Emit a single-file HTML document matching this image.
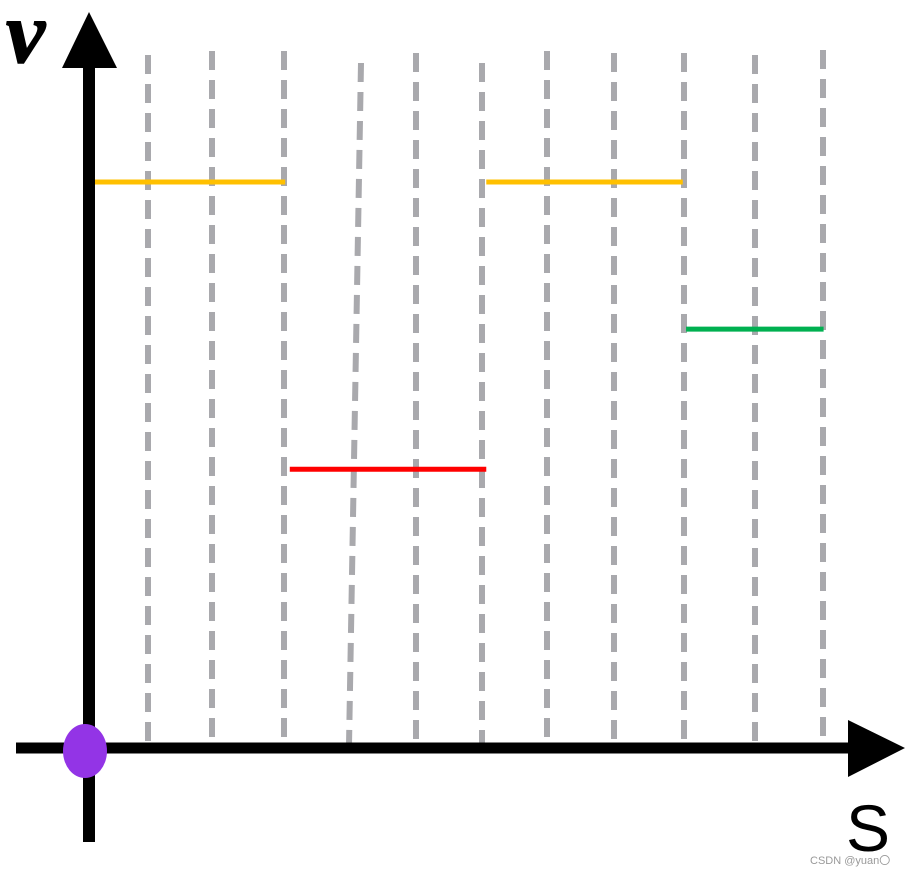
<!DOCTYPE html>
<html><head><meta charset="utf-8">
<style>
html,body{margin:0;padding:0;background:#fff;width:912px;height:876px;overflow:hidden}
svg{display:block}
</style></head>
<body>
<svg id="chart" width="912" height="876" viewBox="0 0 912 876">
  <g id="grid"></g>
  <g id="segs"></g>
  <line x1="89" y1="60" x2="89" y2="842" stroke="#000" stroke-width="12"/>
  <polygon points="62,68 117,68 89,12" fill="#000"/>
  <line x1="16" y1="748" x2="852" y2="748" stroke="#000" stroke-width="11"/>
  <polygon points="848,720 848,777 905,748" fill="#000"/>
  <ellipse cx="85" cy="751" rx="22" ry="27" fill="#9334e6"/>
  <text x="6" y="62" font-family="Liberation Serif, serif" font-style="italic" font-weight="bold" font-size="88" fill="#000" stroke="#000" stroke-width="1.5">v</text>
  <text x="846" y="851" font-family="Liberation Sans, sans-serif" font-size="66" fill="#000">S</text>
  <text x="810" y="864" font-family="Liberation Sans, sans-serif" font-size="11" fill="#999">CSDN @yuan〇</text>
</svg>
<script>
const segStart = [0, 3.05, 6.05, 9.1];
const segEnd = [2.98, 6.05, 9.05, 11.2];
const segV = [4, 1.97, 4, 2.96];
const segColor = ["#ffc000", "#ff0000", "#ffc000", "#00b050"];

function xS(s){ return 90 + s * 65.5; }
function yV(v){ return 748 - v * 141.5; }

const NS = "http://www.w3.org/2000/svg";
const guides = [[148,55,148],[212,51,212],[284,51,284],[361,63,349],[416,53,416],[482,63,482],[547,51,547],[614,53,614],[684,53,684],[755,55,755],[823,50,823]];
const g = document.getElementById("grid");
guides.forEach(function(d){
  const l = document.createElementNS(NS, "line");
  l.setAttribute("x1", d[0]); l.setAttribute("y1", d[1]);
  l.setAttribute("x2", d[2]); l.setAttribute("y2", 745);
  l.setAttribute("stroke", "#a9a9ad"); l.setAttribute("stroke-width", "6");
  l.setAttribute("stroke-dasharray", "19 10");
  
  
  g.appendChild(l);
});
const sg = document.getElementById("segs");
for (let i = 0; i < segV.length; i++) {
  const l = document.createElementNS(NS, "line");
  l.setAttribute("x1", xS(segStart[i])); l.setAttribute("x2", xS(segEnd[i]));
  l.setAttribute("y1", yV(segV[i])); l.setAttribute("y2", yV(segV[i]));
  l.setAttribute("stroke", segColor[i]); l.setAttribute("stroke-width", "5");
  
  
  sg.appendChild(l);
}
</script>
</body></html>
